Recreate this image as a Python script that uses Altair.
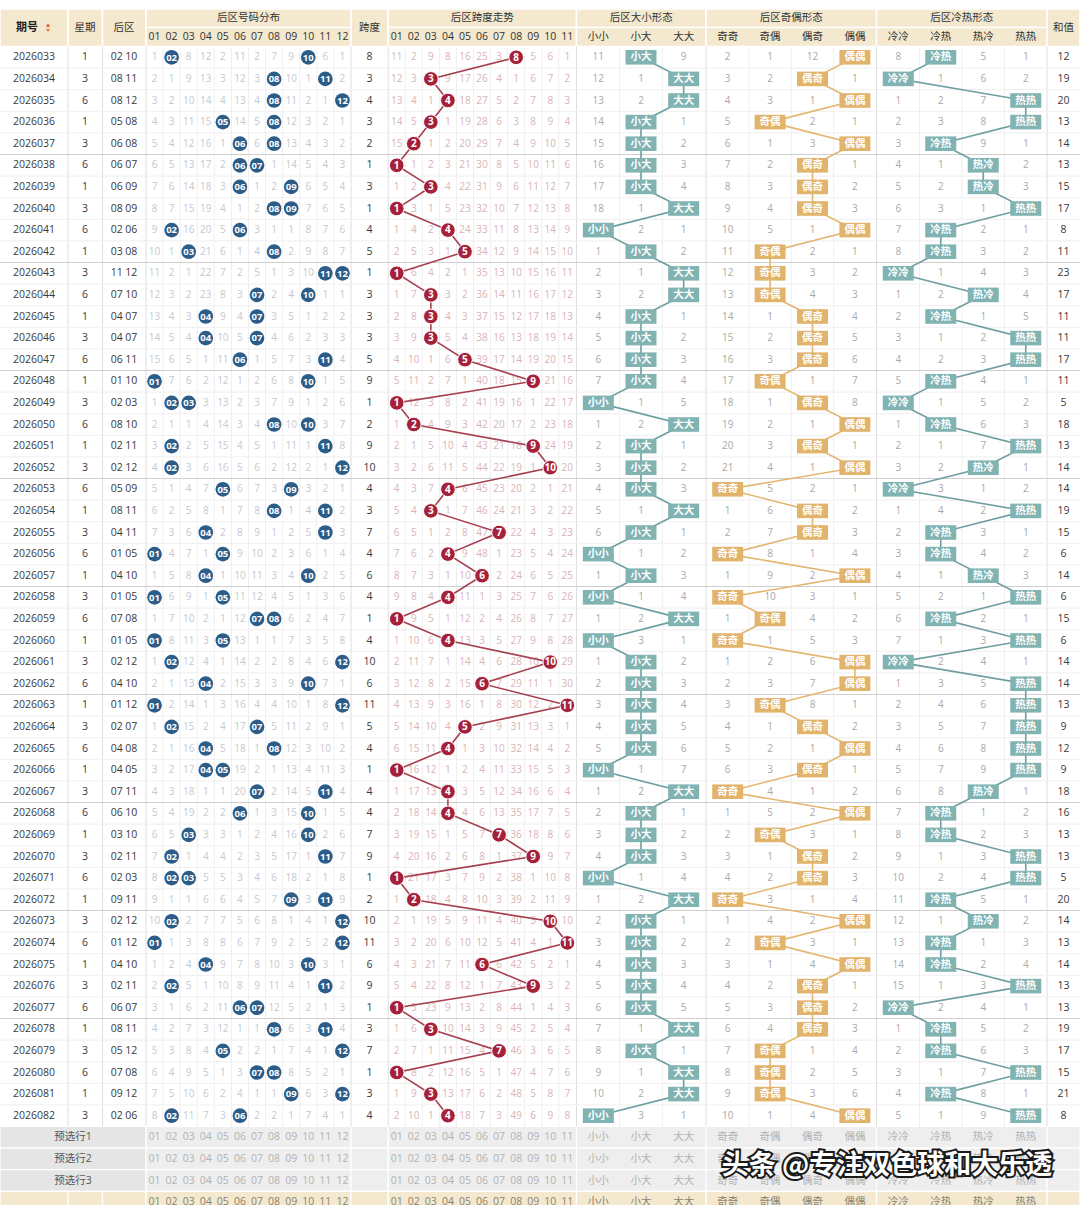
import altair as alt
import pandas as pd

# ---------------- values ----------------
periods = ["2026033", "2026034", "2026035", "2026036", "2026037", "2026038", "2026039", "2026040",
           "2026041", "2026042", "2026043", "2026044", "2026045", "2026046", "2026047", "2026048",
           "2026049", "2026050", "2026051", "2026052", "2026053", "2026054", "2026055", "2026056",
           "2026057", "2026058", "2026059", "2026060", "2026061", "2026062", "2026063", "2026064",
           "2026065", "2026066", "2026067", "2026068", "2026069", "2026070", "2026071", "2026072",
           "2026073", "2026074", "2026075", "2026076", "2026077", "2026078", "2026079", "2026080",
           "2026081", "2026082"]
weekdays = [1, 3, 6, 1, 3, 6, 1, 3, 6, 1, 3, 6, 1, 3, 6, 1, 3, 6, 1, 3, 6, 1, 3, 6, 1,
            3, 6, 1, 3, 6, 1, 3, 6, 1, 3, 6, 1, 3, 6, 1, 3, 6, 1, 3, 6, 1, 3, 6, 1, 3]
back_a = [2, 8, 8, 5, 6, 6, 6, 8, 2, 3, 11, 7, 4, 4, 6, 1, 2, 8, 2, 2, 5, 8, 4, 1, 4,
          1, 7, 1, 2, 4, 1, 2, 4, 4, 7, 6, 3, 2, 2, 9, 2, 1, 4, 2, 6, 8, 5, 7, 9, 2]
back_b = [10, 11, 12, 8, 8, 7, 9, 9, 6, 8, 12, 10, 7, 7, 11, 10, 3, 10, 11, 12, 9, 11, 11, 5, 10,
          5, 8, 5, 12, 10, 12, 7, 8, 5, 11, 10, 10, 11, 3, 11, 12, 12, 10, 11, 7, 11, 12, 8, 12, 6]
spans = [8, 3, 4, 3, 2, 1, 3, 1, 4, 5, 1, 3, 3, 3, 5, 9, 1, 2, 9, 10, 4, 3, 7, 4, 6,
         4, 1, 4, 10, 6, 11, 5, 4, 1, 4, 4, 7, 9, 1, 2, 10, 11, 6, 9, 1, 3, 7, 1, 3, 4]
sums = [12, 19, 20, 13, 14, 13, 15, 17, 8, 11, 23, 17, 11, 11, 17, 11, 5, 18, 13, 14, 14, 19, 15, 6, 14,
        6, 15, 6, 14, 14, 13, 9, 12, 9, 18, 16, 13, 13, 5, 20, 14, 13, 14, 13, 13, 19, 17, 15, 21, 8]
hot_cold = ["冷热", "冷冷", "热热", "热热", "冷热", "热冷", "热冷", "热热", "冷热", "冷热",
            "冷冷", "热冷", "冷热", "热热", "热热", "冷热", "冷冷", "冷热", "热热", "热冷",
            "冷冷", "热热", "冷热", "冷热", "热冷", "热热", "冷热", "热热", "冷冷", "热热",
            "热热", "热热", "热热", "热热", "热冷", "冷热", "冷热", "热热", "热热", "冷热",
            "热冷", "冷热", "冷热", "热热", "冷冷", "冷热", "冷热", "热热", "冷热", "热热"]

dist_labels = ["01", "02", "03", "04", "05", "06", "07", "08", "09", "10", "11", "12"]
span_labels = ["01", "02", "03", "04", "05", "06", "07", "08", "09", "10", "11"]
size_labels = ["小小", "小大", "大大"]
parity_labels = ["奇奇", "奇偶", "偶奇", "偶偶"]
hc_labels = ["冷冷", "冷热", "热冷", "热热"]

# omission counts printed in the first row (None = drawn in that period)
dist_row1 = [1, None, 8, 12, 2, 11, 2, 7, 9, None, 6, 1]
span_row1 = [11, 2, 9, 8, 16, 25, 3, None, 5, 6, 1]
size_row1 = [11, None, 9]
parity_row1 = [2, 1, 12, None]
hc_row1 = [8, None, 5, 1]

pred_rows = ["预选行1", "预选行2", "预选行3"]
watermark = "头条 @专注双色球和大乐透"

# ---------------- layout ----------------
W, H = 1080, 1205
TOP, HMID, HBOT, RH = 9.0, 27.5, 46.5, 21.6
N = len(periods)
FONT = "Open Sans, Noto Sans CJK SC, sans-serif"
CJK = "Noto Sans CJK SC, sans-serif"

groups = {
    "dist": (146.0, 17.08, 12),
    "span": (388.2, 17.06, 11),
    "size": (577.0, 42.67, 3),
    "parity": (706.5, 42.4, 4),
    "hc": (877.0, 42.5, 4),
}
BOUNDS = [0, 68, 102.5, 146, 351, 388.2, 576.5, 706, 876.5, 1047, 1080]
X_PERIOD, X_WEEK, X_BACK, X_SPAN, X_SUM = 30, 85, 124, 369.6, 1063.5


def cx(g, k):
    x0, w, n = groups[g]
    return x0 + w * (k + 0.5)


def rtop(i):
    return HBOT + RH * i


def rc(i):
    return HBOT + RH * (i + 0.5)


def omissions(first, hits):
    out, prev = [], None
    for r, h in enumerate(hits):
        row = []
        for c in range(len(first)):
            if c in h:
                row.append(None)
            elif r == 0:
                row.append(first[c])
            else:
                row.append(1 if prev[c] is None else prev[c] + 1)
        out.append(row)
        prev = row
    return out


size_idx = [0 if b <= 6 else (1 if a <= 6 else 2) for a, b in zip(back_a, back_b)]
parity_idx = [(0 if a % 2 else 2) + (0 if b % 2 else 1) for a, b in zip(back_a, back_b)]
hc_idx = [hc_labels.index(h) for h in hot_cold]

om_dist = omissions(dist_row1, [{a - 1, b - 1} for a, b in zip(back_a, back_b)])
om_span = omissions(span_row1, [{s - 1} for s in spans])
om_size = omissions(size_row1, [{k} for k in size_idx])
om_par = omissions(parity_row1, [{k} for k in parity_idx])
om_hc = omissions(hc_row1, [{k} for k in hc_idx])

XS = alt.Scale(domain=[0, W], nice=False, zero=False)
YS = alt.Scale(domain=[0, H], nice=False, zero=False, reverse=True)


def rect_layer(rows, **mk):
    df = pd.DataFrame(rows, columns=["x", "x2", "y", "y2", "c"])
    return alt.Chart(df).mark_rect(**mk).encode(
        x=alt.X("x:Q", scale=XS, axis=None), x2="x2:Q",
        y=alt.Y("y:Q", scale=YS, axis=None), y2="y2:Q",
        color=alt.Color("c:N", scale=None))


def rule_layer(rows):
    df = pd.DataFrame(rows, columns=["x", "x2", "y", "y2", "c", "w"])
    return alt.Chart(df).mark_rule().encode(
        x=alt.X("x:Q", scale=XS, axis=None), x2="x2:Q",
        y=alt.Y("y:Q", scale=YS, axis=None), y2="y2:Q",
        color=alt.Color("c:N", scale=None), size=alt.Size("w:Q", scale=None))


def text_layer(rows, **mk):
    df = pd.DataFrame(rows, columns=["x", "y", "t", "c"])
    opts = dict(font=FONT, fontSize=10.5, align="center", baseline="middle")
    opts.update(mk)
    return alt.Chart(df).mark_text(**opts).encode(
        x=alt.X("x:Q", scale=XS, axis=None), y=alt.Y("y:Q", scale=YS, axis=None),
        text="t:N", color=alt.Color("c:N", scale=None))


def line_layer(pts, color, width=1.6):
    df = pd.DataFrame(pts, columns=["x", "y", "i"])
    return alt.Chart(df).mark_line(color=color, strokeWidth=width).encode(
        x=alt.X("x:Q", scale=XS, axis=None), y=alt.Y("y:Q", scale=YS, axis=None),
        order=alt.Order("i:Q"))


def point_layer(pts, **mk):
    df = pd.DataFrame(pts, columns=["x", "y"])
    return alt.Chart(df).mark_point(**mk).encode(
        x=alt.X("x:Q", scale=XS, axis=None), y=alt.Y("y:Q", scale=YS, axis=None))


BEIGE = "#f4e9cf"
layers = []

# ---- header cells ----
hdr = []
for k in range(len(BOUNDS) - 1):
    x0, x1 = BOUNDS[k], BOUNDS[k + 1]
    if k in (3, 5, 6, 7, 8):
        hdr.append((x0, x1, TOP, HMID, BEIGE))
        hdr.append((x0, x1, HMID, HBOT, BEIGE))
    else:
        hdr.append((x0, x1, TOP, HBOT, BEIGE))
layers.append(rect_layer(hdr, stroke="white", strokeWidth=1.5))

# ---- preselection rows and footer ----
pr = []
for k in range(3):
    y0, y1 = rtop(N + k), rtop(N + k + 1)
    pr.append((0, 146, y0, y1, "#e5e5e5"))
    for j in range(3, len(BOUNDS) - 1):
        pr.append((BOUNDS[j], BOUNDS[j + 1], y0, y1, "#eeeeee"))
y0, y1 = rtop(N + 3), H + 10
for j in range(len(BOUNDS) - 1):
    pr.append((BOUNDS[j], BOUNDS[j + 1], y0, y1, BEIGE))
layers.append(rect_layer(pr, stroke="white", strokeWidth=1.2))

# ---- grid lines in the data area ----
rules = []
ybot = rtop(N)
for g, (x0, w, n) in groups.items():
    for k in range(1, n):
        rules.append((x0 + w * k, x0 + w * k, HBOT, ybot, "#efefef", 1))
for b in BOUNDS[1:-1]:
    rules.append((b, b, HBOT, ybot, "#dedede", 1))
for i in range(1, N):
    if i % 5 == 0:
        rules.append((0, W, rtop(i), rtop(i), "#cfcfcf", 1))
    else:
        rules.append((0, W, rtop(i), rtop(i), "#efefef", 1))
layers.append(rule_layer(rules))

# ---- header texts ----
ht = [("星期", X_WEEK, (TOP + HBOT) / 2, "#333333"),
      ("后区", X_BACK, (TOP + HBOT) / 2, "#333333"),
      ("跨度", X_SPAN, (TOP + HBOT) / 2, "#333333"),
      ("和值", X_SUM, (TOP + HBOT) / 2, "#333333"),
      ("后区号码分布", (BOUNDS[3] + BOUNDS[4]) / 2, (TOP + HMID) / 2, "#333333"),
      ("后区跨度走势", (BOUNDS[5] + BOUNDS[6]) / 2, (TOP + HMID) / 2, "#333333"),
      ("后区大小形态", (BOUNDS[6] + BOUNDS[7]) / 2, (TOP + HMID) / 2, "#333333"),
      ("后区奇偶形态", (BOUNDS[7] + BOUNDS[8]) / 2, (TOP + HMID) / 2, "#333333"),
      ("后区冷热形态", (BOUNDS[8] + BOUNDS[9]) / 2, (TOP + HMID) / 2, "#333333")]
sub_y = (HMID + HBOT) / 2
for g, labs in (("dist", dist_labels), ("span", span_labels), ("size", size_labels),
                ("parity", parity_labels), ("hc", hc_labels)):
    for k, lab in enumerate(labs):
        ht.append((lab, cx(g, k), sub_y, "#333333"))
layers.append(text_layer([(x, y, t, c) for t, x, y, c in ht], font=FONT, fontSize=10.5))
layers.append(text_layer([(27, (TOP + HBOT) / 2, "期号", "#222222")], font=CJK,
                         fontSize=11, fontWeight="bold"))
layers.append(point_layer([(48, 25.0)], shape="triangle-up", filled=True, size=16,
                          color="#e0503a", opacity=1))
layers.append(point_layer([(48, 30.5)], shape="triangle-down", filled=True, size=16,
                          color="#e8803a", opacity=1))

# ---- row information texts ----
rt = []
for i in range(N):
    y = rc(i)
    rt.append((X_PERIOD + 4, y, periods[i], "#3a3a3a"))
    rt.append((X_WEEK, y, str(weekdays[i]), "#3a3a3a"))
    rt.append((X_BACK, y, f"{back_a[i]:02d} {back_b[i]:02d}", "#3a3a3a"))
    rt.append((X_SPAN, y, str(spans[i]), "#3a3a3a"))
    rt.append((X_SUM, y, str(sums[i]), "#3a3a3a"))
layers.append(text_layer(rt, fontSize=10.5))

# ---- omission numbers ----
om = []
for i in range(N):
    y = rc(i)
    for g, table, col in (("dist", om_dist, "#c4c9d0"), ("span", om_span, "#d8b4b8"),
                          ("size", om_size, "#a9a9a9"), ("parity", om_par, "#a9a9a9"),
                          ("hc", om_hc, "#a9a9a9")):
        for k, v in enumerate(table[i]):
            if v is not None:
                om.append((cx(g, k), y, str(v), col))
layers.append(text_layer(om, fontSize=10))

# ---- trend lines ----
layers.append(line_layer([(cx("span", spans[i] - 1), rc(i), i) for i in range(N)], "#a6404f"))
layers.append(line_layer([(cx("size", size_idx[i]), rc(i), i) for i in range(N)], "#6a9e9f"))
layers.append(line_layer([(cx("parity", parity_idx[i]), rc(i), i) for i in range(N)], "#e4b56f"))
layers.append(line_layer([(cx("hc", hc_idx[i]), rc(i), i) for i in range(N)], "#6f9ea1"))

# ---- drawn numbers (blue balls) ----
balls, ball_txt = [], []
for i in range(N):
    for v in (back_a[i], back_b[i]):
        balls.append((cx("dist", v - 1), rc(i)))
        ball_txt.append((cx("dist", v - 1), rc(i) + 0.3, f"{v:02d}", "#ffffff"))
layers.append(point_layer(balls, shape="circle", filled=True, size=215, color="#2c5c88", opacity=1))
layers.append(text_layer(ball_txt, fontSize=9.5, fontWeight="bold"))

# ---- span balls (red) ----
sp = [(cx("span", spans[i] - 1), rc(i)) for i in range(N)]
sp_txt = [(cx("span", spans[i] - 1), rc(i) + 0.3, str(spans[i]), "#ffffff") for i in range(N)]
layers.append(point_layer(sp, shape="circle", filled=True, size=215, fill="#a5213a",
                          stroke="#ffffff", strokeWidth=1, opacity=1))
layers.append(text_layer(sp_txt, fontSize=10, fontWeight="bold"))

# ---- form boxes ----
BW, BH = 15.5, 7.3
teal, tan, box_txt = [], [], []
for i in range(N):
    y = rc(i)
    for g, idx, labs, store in (("size", size_idx, size_labels, teal),
                                ("parity", parity_idx, parity_labels, tan),
                                ("hc", hc_idx, hc_labels, teal)):
        x = cx(g, idx[i])
        store.append((x - BW, x + BW, y - BH, y + BH, "#80b3b2" if store is teal else "#e2b36b"))
        box_txt.append((x, y, labs[idx[i]], "#ffffff"))
layers.append(rect_layer(teal))
layers.append(rect_layer(tan))
layers.append(text_layer(box_txt, font=CJK, fontSize=10.5, fontWeight="bold"))

# ---- preselection / footer labels ----
pt, ft = [], []
for k, name in enumerate(pred_rows):
    y = rc(N + k)
    pt.append((73, y, name, "#555555"))
    for g, labs in (("dist", dist_labels), ("span", span_labels), ("size", size_labels),
                    ("parity", parity_labels), ("hc", hc_labels)):
        for j, lab in enumerate(labs):
            pt.append((cx(g, j), y, lab, "#b2b2b2"))
y = rc(N + 3)
for g, labs in (("dist", dist_labels), ("span", span_labels), ("size", size_labels),
                ("parity", parity_labels), ("hc", hc_labels)):
    for j, lab in enumerate(labs):
        ft.append((cx(g, j), y, lab, "#8a8170"))
layers.append(text_layer(pt, fontSize=10.5))
layers.append(text_layer(ft, fontSize=10.5))

# ---- watermark ----
layers.append(text_layer([(887, 1166, watermark, "#1a1a1a")], font=CJK, fontSize=27,
                         fontWeight="bold", stroke="#1a1a1a", strokeWidth=4))
layers.append(text_layer([(887, 1166, watermark, "#ffffff")], font=CJK, fontSize=27,
                         fontWeight="bold"))

chart = alt.layer(*layers).properties(
    width=W, height=H, padding=0, background="#ffffff",
    autosize=alt.AutoSizeParams(type="none"),
).configure_view(stroke=None)

chart.save("out.html", embed_options={"renderer": "svg", "actions": False})
